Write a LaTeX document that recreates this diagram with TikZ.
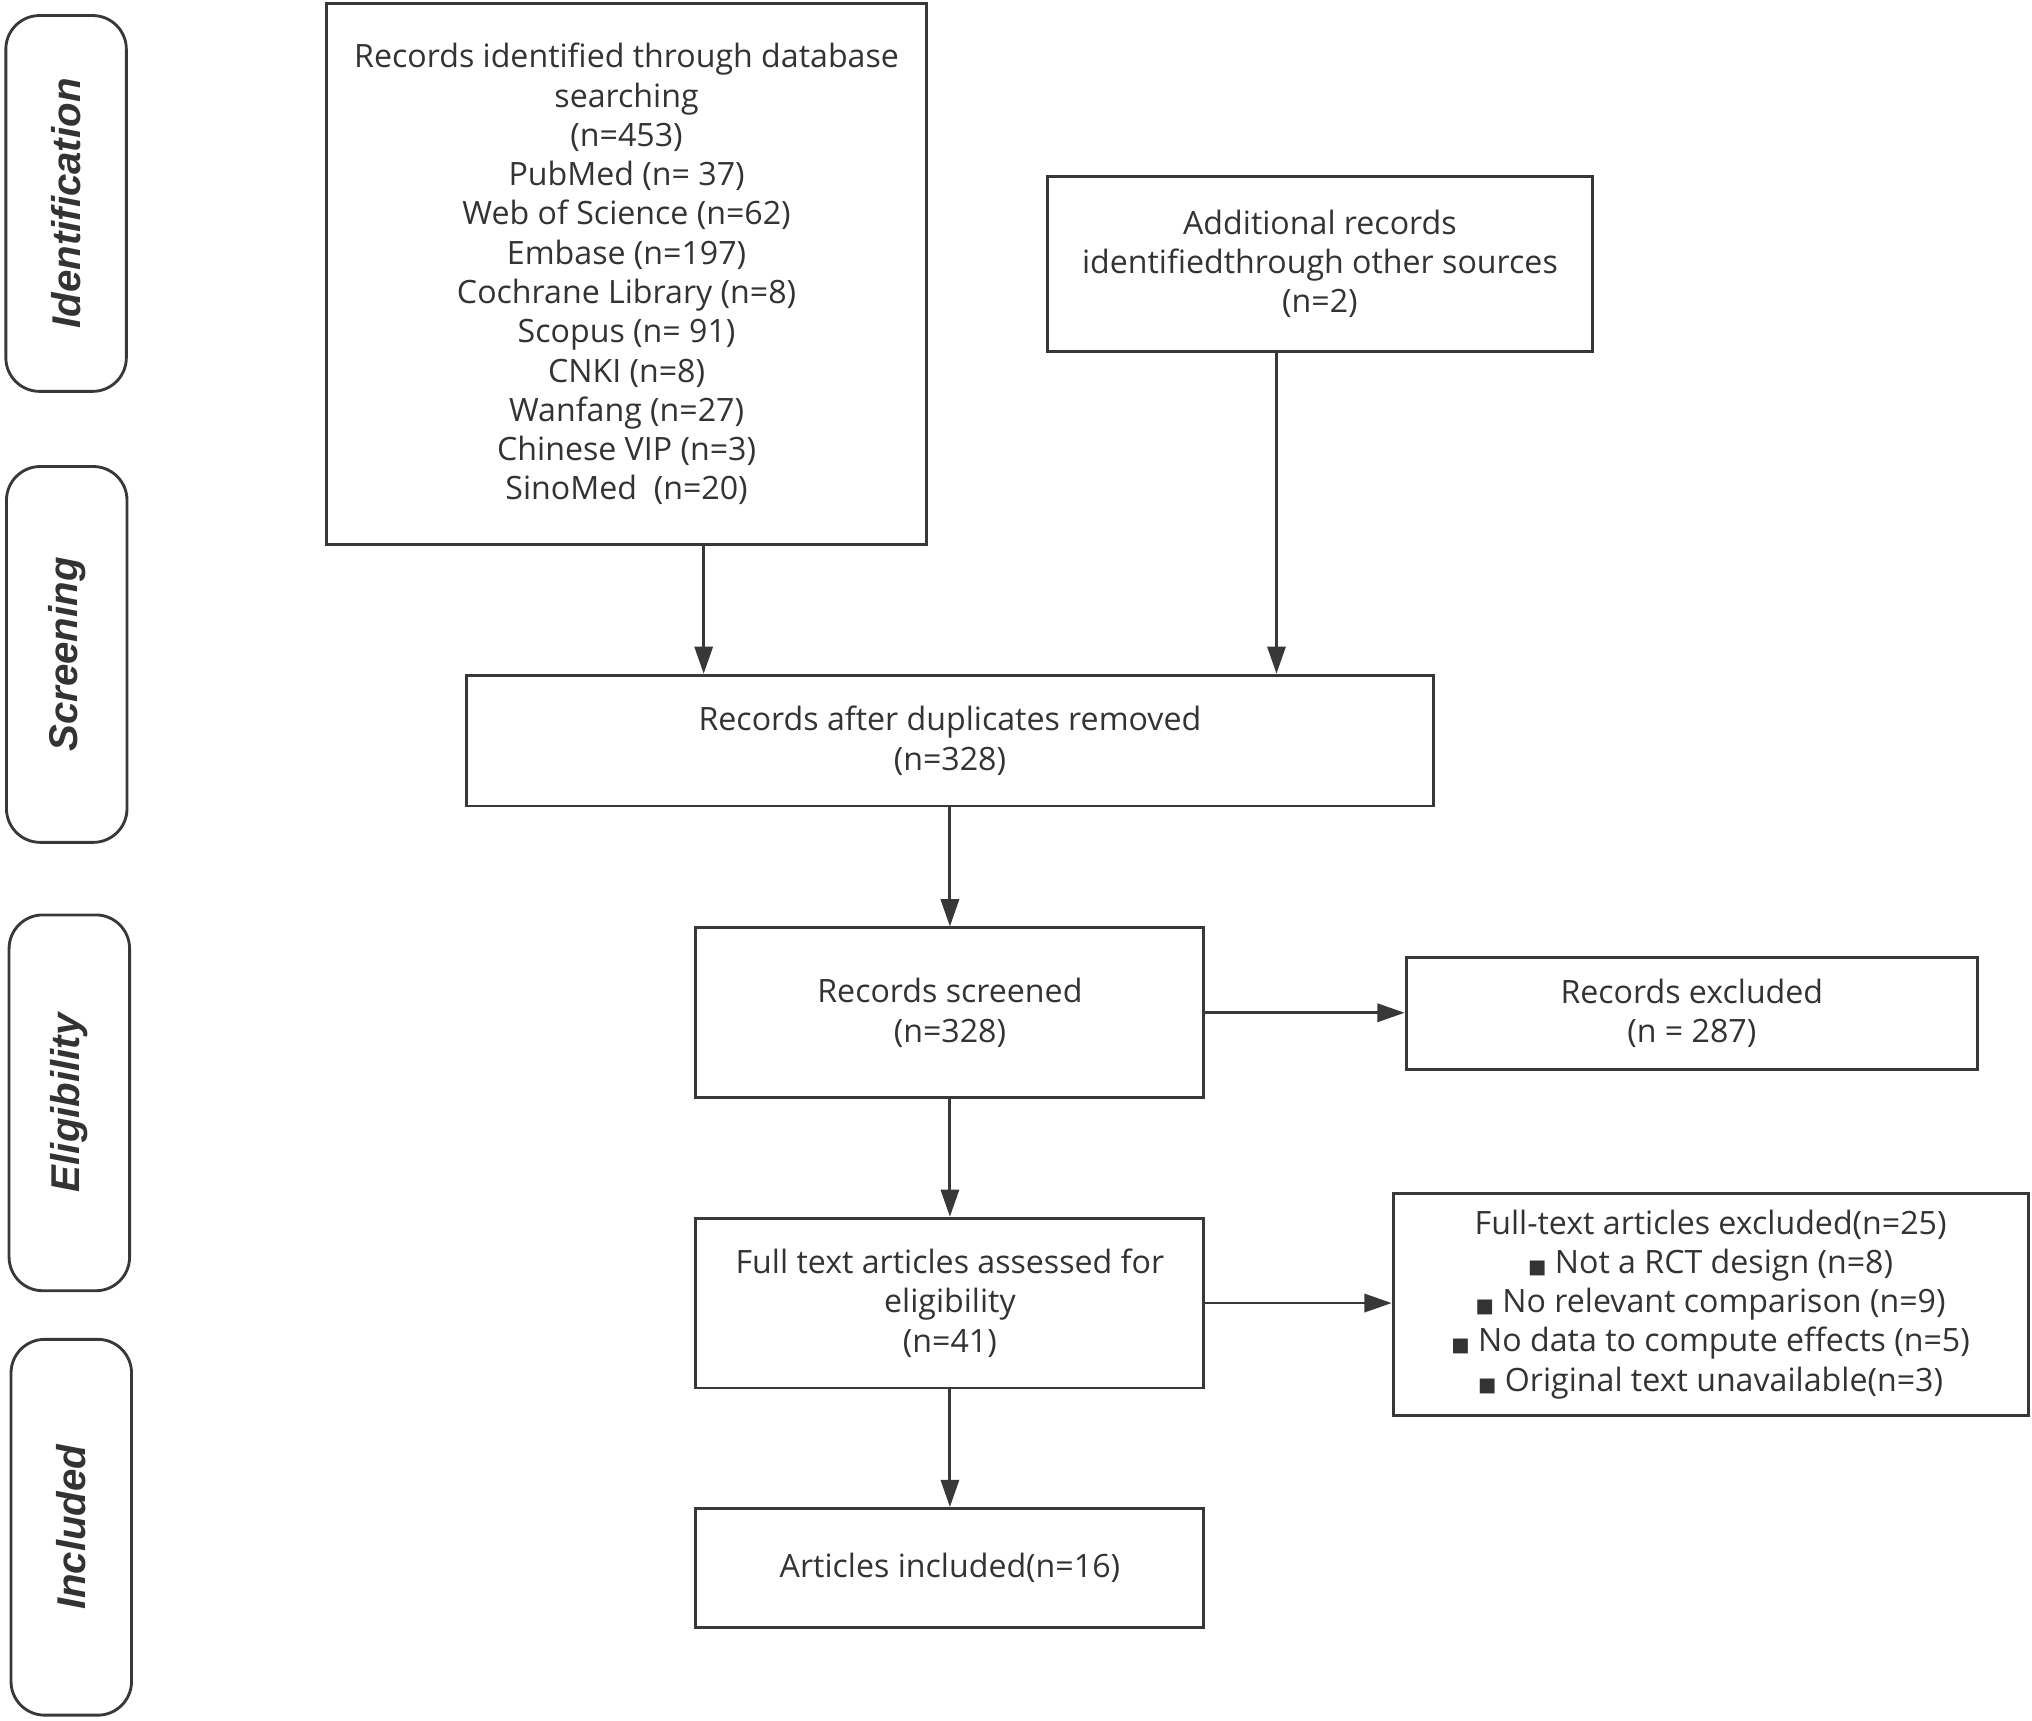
\documentclass[tikz,border=0pt]{standalone}
\usepackage{fontspec}
\setmainfont{Open Sans}
\newfontfamily\labfont{Liberation Sans}
\newfontfamily\symfont{DejaVu Sans}
\usetikzlibrary{arrows.meta,calc}
\definecolor{ln}{HTML}{383838}
\definecolor{tx}{HTML}{333333}
\newcommand{\sqbul}{{\symfont\fontsize{15}{15}\selectfont ■}}
\tikzset{
  box/.style={draw=ln, line width=2.2pt, rectangle, inner sep=0pt, align=center,
    text=tx, font=\fontsize{24.8}{30.3}\selectfont},
  pill/.style={draw=ln, line width=2.2pt, rectangle, rounded corners=26pt, inner sep=0pt,
    minimum width=290pt, minimum height=93pt, rotate=90, text=tx,
    font=\labfont\bfseries\itshape\fontsize{31}{31}\selectfont},
  arr/.style={draw=ln, line width=2.2pt, -{Triangle[length=21pt,width=14pt]}}
}
\begin{document}
\begin{tikzpicture}[x=1pt,y=-1pt]
\useasboundingbox (0,0) rectangle (1568,1327.3);
% stage pills
\node[pill] (pid) at (51,157) {Identification};
\node[pill] (psc) at (51.5,505) {Screening};
\node[pill] (pel) at (53.5,851) {Eligibility};
\node[pill] (pin) at (55,1178.5) {Included};
% boxes
\node[box, minimum width=463pt, minimum height=417pt] (A) at (483.5,211.5)
 {Records identified through database\\ searching\\ (n=453)\\ PubMed (n= 37)\\ Web of Science (n=62)\\ Embase (n=197)\\ Cochrane Library (n=8)\\ Scopus (n= 91)\\ CNKI (n=8)\\ Wanfang (n=27)\\ Chinese VIP (n=3)\\ SinoMed\ \ (n=20)};
\node[box, minimum width=421pt, minimum height=135pt] (B) at (1018.5,203.5)
 {Additional records\\ identifiedthrough other sources\\ (n=2)};
\node[box, minimum width=746pt, minimum height=101pt] (C) at (733,571.5)
 {Records after duplicates removed\\ (n=328)};
\node[box, minimum width=392pt, minimum height=131pt] (D) at (733,781.5)
 {Records screened\\ (n=328)};
\node[box, minimum width=441pt, minimum height=86pt] (E) at (1305.5,782)
 {Records excluded\\ (n = 287)};
\node[box, minimum width=392pt, minimum height=131pt] (F) at (733,1005.5)
 {Full text articles assessed for\\ eligibility\\ (n=41)};
\node[box, minimum width=490pt, minimum height=171pt] (G) at (1320,1006.5)
 {Full-text articles excluded(n=25)\\ \sqbul\ Not a RCT design (n=8)\\ \sqbul\ No relevant comparison (n=9)\\ \sqbul\ No data to compute effects (n=5)\\ \sqbul\ Original text unavailable(n=3)};
\node[box, minimum width=392pt, minimum height=92pt] (H) at (733,1210)
 {Articles included(n=16)};
% connectors
\draw[arr] ([xshift=59.5pt]A.south) -- ([xshift=59.5pt]A.south |- C.north);
\draw[arr] ([xshift=-33.5pt]B.south) -- ([xshift=-33.5pt]B.south |- C.north);
\draw[arr] (C.south) -- (D.north);
\draw[arr] (D.east) -- (D.east -| E.west);
\draw[arr] (D.south) -- (F.north);
\draw[arr] (F.east) -- (F.east -| G.west);
\draw[arr] (F.south) -- (H.north);
\end{tikzpicture}
\end{document}
